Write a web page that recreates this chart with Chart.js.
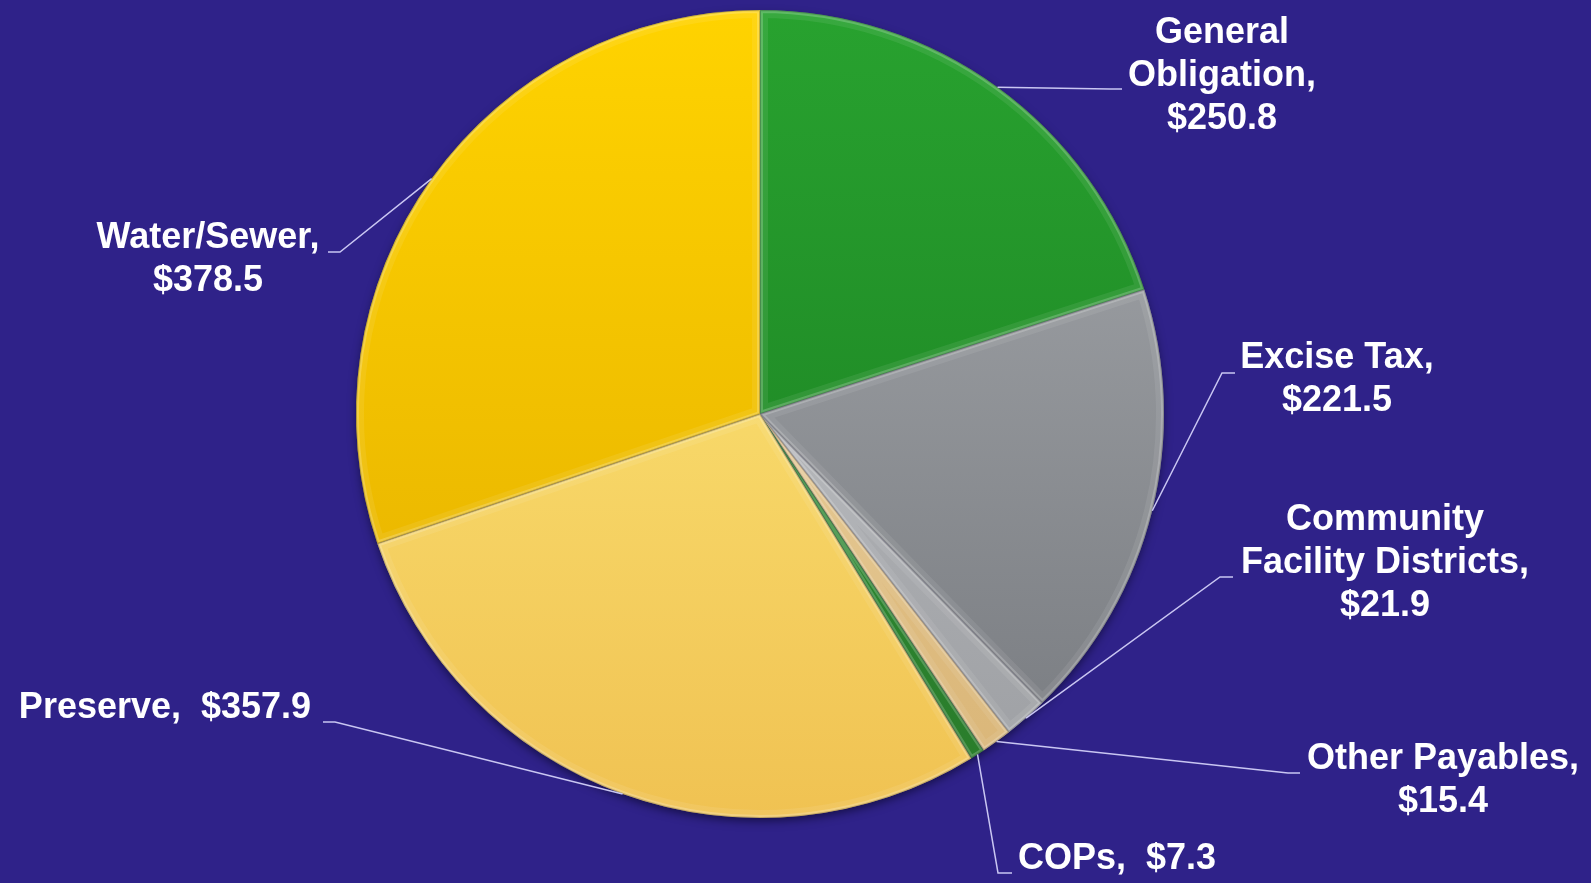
<!DOCTYPE html>
<html>
<head>
<meta charset="utf-8">
<script src="https://cdn.jsdelivr.net/npm/chart.js@4.4.1/dist/chart.umd.min.js"></script>
<style>
    html, body { margin: 0; padding: 0; background: #2F2289; }
    #wrap { width: 1591px; height: 883px; position: relative; }
</style>
</head>
<body>
<div id="wrap"><canvas id="debt-chart"></canvas></div>
<script>
// Données du graphique (millions $)
const categories = ['General Obligation', 'Excise Tax', 'Community Facility Districts', 'Other Payables', 'COPs', 'Preserve', 'Water/Sewer'];
const amounts = [250.8, 221.5, 21.9, 15.4, 7.3, 357.9, 378.5];
// Texte des étiquettes (la valeur est ajoutée à partir de amounts)
const labelLines = [['General', 'Obligation,'], ['Excise Tax,'], ['Community', 'Facility Districts,'], ['Other Payables,'], ['COPs,'], ['Preserve,'], ['Water/Sewer,']];
const valueInline = [false, false, false, false, true, true, false];

// Couleurs des parts : haut / bas du dégradé
const sliceTop = ['#28A22F', '#A7AAAE', '#C2C4C7', '#EDD09A', '#23922A', '#FFEE80', '#FFD300'];
const sliceBottom = ['#1A7A20', '#76797E', '#9C9EA2', '#D9B577', '#177019', '#F0C252', '#E2AC00'];

// Position des étiquettes (centre du texte) et coude de la ligne de rappel
const labelLayout = [
    { x: 1222, y: 33, elbow: [1110, 89], end: [1122, 89] },
    { x: 1337, y: 358, elbow: [1222, 373], end: [1235, 373] },
    { x: 1385, y: 520, elbow: [1220, 577], end: [1233, 577] },
    { x: 1443, y: 759, elbow: [1288, 773], end: [1300, 773] },
    { x: 1117, y: 859, elbow: [998, 873], end: [1012, 873] },
    { x: 165, y: 708, elbow: [335, 722], end: [323, 722] },
    { x: 208, y: 238, elbow: [340, 252], end: [328, 252] }
];
const lineHeight = 43;

function formatValue(v) {
    return '$' + v.toFixed(1);
}

function sliceGradient(context) {
    const chart = context.chart;
    const area = chart.chartArea;
    if (!area) return sliceTop[context.dataIndex];
    const g = chart.ctx.createLinearGradient(0, area.top, 0, area.bottom);
    g.addColorStop(0, sliceTop[context.dataIndex]);
    g.addColorStop(1, sliceBottom[context.dataIndex]);
    return g;
}

// Ombre portée sous le camembert
const pieShadow = {
    id: 'pieShadow',
    beforeDatasetsDraw(chart) {
        const arc = chart.getDatasetMeta(0).data[0];
        if (!arc) return;
        const ctx = chart.ctx;
        ctx.save();
        ctx.shadowColor = 'rgba(0, 0, 20, 0.55)';
        ctx.shadowBlur = 10;
        ctx.shadowOffsetY = 4;
        ctx.fillStyle = '#1d1560';
        ctx.beginPath();
        ctx.arc(arc.x, arc.y, arc.outerRadius - 1, 0, Math.PI * 2);
        ctx.fill();
        ctx.restore();
    }
};

// Effet biseauté sur chaque part
const bevel = {
    id: 'bevel',
    afterDatasetsDraw(chart) {
        const ctx = chart.ctx;
        chart.getDatasetMeta(0).data.forEach(arc => {
            const p = arc.getProps(['x', 'y', 'startAngle', 'endAngle', 'outerRadius']);
            const path = new Path2D();
            path.moveTo(p.x, p.y);
            path.arc(p.x, p.y, p.outerRadius, p.startAngle, p.endAngle);
            path.closePath();
            ctx.save();
            ctx.clip(path);
            ctx.lineJoin = 'round';
            ctx.strokeStyle = 'rgba(255, 255, 255, 0.08)';
            ctx.lineWidth = 16;
            ctx.stroke(path);
            ctx.strokeStyle = 'rgba(255, 255, 255, 0.2)';
            ctx.lineWidth = 6;
            ctx.stroke(path);
            ctx.strokeStyle = 'rgba(0, 0, 0, 0.2)';
            ctx.lineWidth = 2;
            ctx.stroke(path);
            ctx.restore();
        });
    }
};

// Étiquettes avec lignes de rappel
const leaderLabels = {
    id: 'leaderLabels',
    afterDraw(chart) {
        const ctx = chart.ctx;
        const meta = chart.getDatasetMeta(0);
        ctx.save();
        meta.data.forEach((arc, i) => {
            const p = arc.getProps(['x', 'y', 'startAngle', 'endAngle', 'outerRadius']);
            const mid = (p.startAngle + p.endAngle) / 2;
            const ax = p.x + Math.cos(mid) * p.outerRadius;
            const ay = p.y + Math.sin(mid) * p.outerRadius;
            const lay = labelLayout[i];

            ctx.strokeStyle = '#C9C6F2';
            ctx.lineWidth = 1.5;
            ctx.beginPath();
            ctx.moveTo(ax, ay);
            ctx.lineTo(lay.elbow[0], lay.elbow[1]);
            ctx.lineTo(lay.end[0], lay.end[1]);
            ctx.stroke();

            let lines = labelLines[i].slice();
            if (valueInline[i]) {
                lines[lines.length - 1] += '  ' + formatValue(amounts[i]);
            } else {
                lines.push(formatValue(amounts[i]));
            }
            ctx.fillStyle = '#FFFFFF';
            ctx.font = 'bold 36px "Liberation Sans", Arial, sans-serif';
            ctx.textAlign = 'center';
            ctx.textBaseline = 'middle';
            lines.forEach((line, k) => {
                ctx.fillText(line, lay.x, lay.y + k * lineHeight);
            });
        });
        ctx.restore();
    }
};

new Chart(document.getElementById('debt-chart'), {
    type: 'pie',
    data: {
        labels: categories,
        datasets: [{
            data: amounts,
            backgroundColor: sliceGradient,
            borderWidth: 0
        }]
    },
    options: {
        responsive: true,
        maintainAspectRatio: false,
        animation: false,
        layout: {
            padding: { top: 10, bottom: 65, left: 0, right: 71 }
        },
        plugins: {
            legend: { display: false },
            tooltip: { enabled: false }
        }
    },
    plugins: [pieShadow, bevel, leaderLabels]
});
</script>
</body>
</html>
